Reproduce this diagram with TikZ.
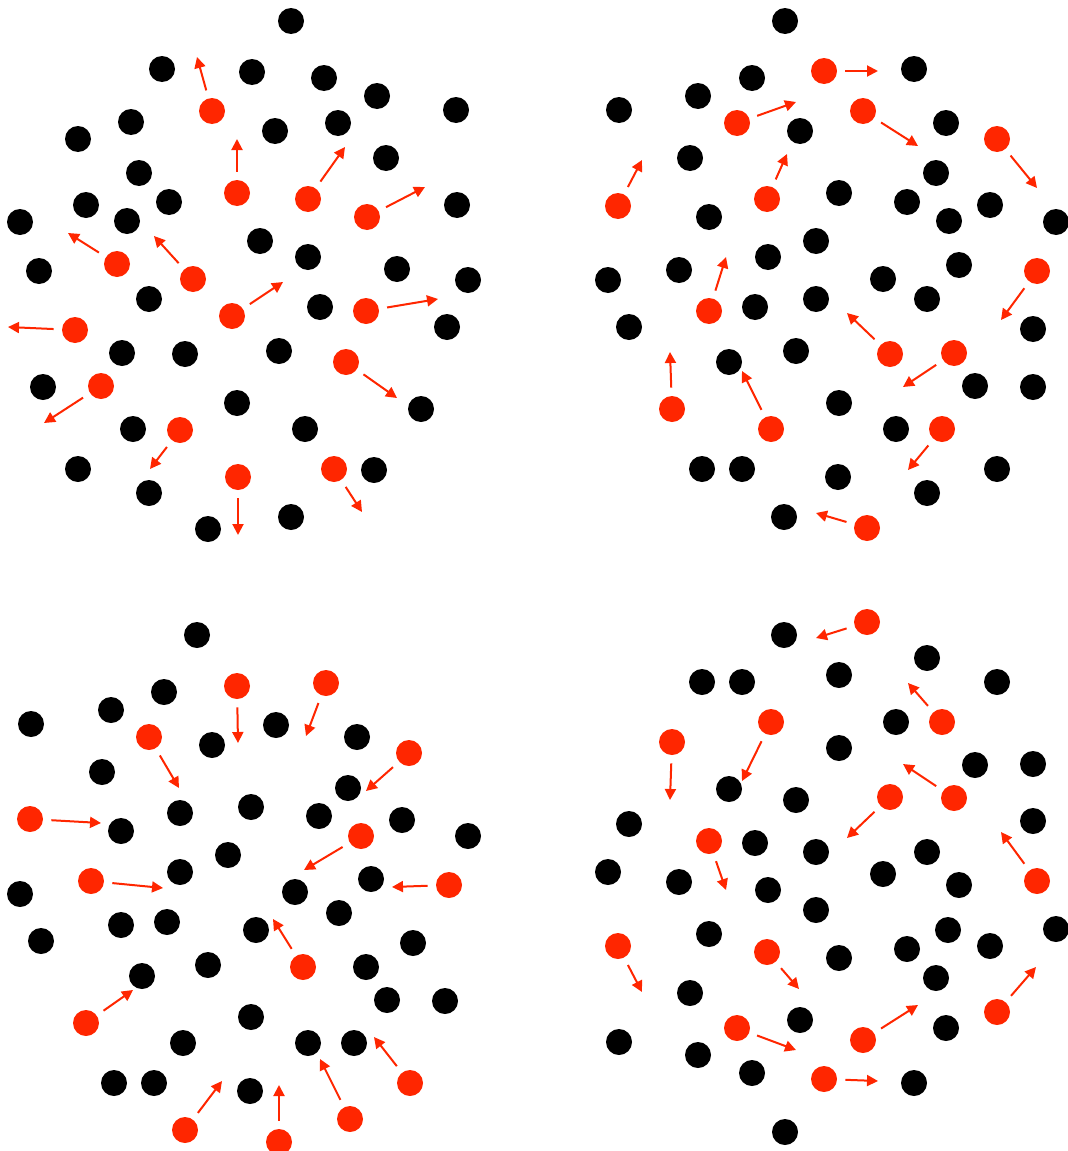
\documentclass[tikz,border=0pt]{standalone}
\usetikzlibrary{arrows.meta}
\definecolor{hot}{RGB}{255,38,0}
\tikzset{
  bdot/.style={circle, fill=black, inner sep=0pt, minimum size=13pt},
  rdot/.style={circle, fill=hot, inner sep=0pt, minimum size=13pt},
  mv/.style={hot, line width=1pt, -{Triangle[length=5.5pt,width=5.5pt]}, shorten <=4pt},
}
\begin{document}
\begin{tikzpicture}[x=0.5pt, y=-0.5pt]
  \useasboundingbox (0,0) rectangle (1067,1151);
  % top left
  \foreach \x/\y [count=\i] in {291/21,162/69,252/72,324/78,377/96,456/110,131/122,78/139,275/131,338/123,386/158,139/173,86/205,169/202,127/221,20/222,457/205,260/241,308/257,397/269,468/280,39/271,149/299,320/307,447/327,122/353,185/354,279/351,43/387,237/403,421/409,133/429,305/429,78/469,149/493,374/470,291/517,208/529}
    \node[bdot] (tl-b\i) at (\x,\y) {};
  \foreach \x/\y/\u/\v [count=\i] in {212/111/197/57,237/193/237/139,308/199/345/147,367/217/425/187,117/264/68/233,193/279/154/236,232/316/283/282,75/330/8/327,366/311/438/299,346/362/397/398,101/386/44/423,180/430/150/469,238/477/238/535,334/469/362/512}
    {\node[rdot] (tl-r\i) at (\x,\y) {};
     \coordinate (tl-t\i) at (\u,\v);
     \draw[mv] (tl-r\i) -- (tl-t\i);}
  % top right
  \foreach \x/\y [count=\i] in {785/21,914/69,752/78,698/96,619/110,946/123,800/131,690/158,936/173,839/193,907/202,949/221,990/205,1056/222,709/217,816/241,768/257,679/270,608/280,959/265,883/279,755/307,816/299,927/299,629/327,1033/329,796/351,729/362,975/386,1033/387,839/403,896/429,702/469,742/469,838/477,997/469,927/493,784/517}
    \node[bdot] (tr-b\i) at (\x,\y) {};
  \foreach \x/\y/\u/\v [count=\i] in {824/71/878/71,737/123/796/102,863/111/918/146,997/139/1037/188,618/206/642/160,767/199/787/154,1037/271/1001/320,709/311/726/257,890/354/847/313,954/353/903/387,672/409/670/352,771/429/742/371,942/429/908/470,867/528/816/513}
    {\node[rdot] (tr-r\i) at (\x,\y) {};
     \coordinate (tr-t\i) at (\u,\v);
     \draw[mv] (tr-r\i) -- (tr-t\i);}
  % bottom left
  \foreach \x/\y [count=\i] in {197/635,164/692,111/710,31/724,276/725,212/745,357/737,102/772,348/788,180/813,251/807,319/816,402/820,121/831,468/836,228/855,180/872,295/892,371/879,20/894,121/925,167/922,41/941,256/930,339/913,413/943,208/965,366/967,142/976,387/1000,445/1001,251/1017,183/1043,308/1043,354/1043,114/1083,154/1083,250/1091}
    \node[bdot] (bl-b\i) at (\x,\y) {};
  \foreach \x/\y/\u/\v [count=\i] in {237/686/238/743,326/683/306/736,149/737/179/788,409/753/366/791,30/819/101/823,361/836/304/870,91/881/163/888,449/885/392/887,303/967/273/919,86/1023/133/990,185/1130/222/1081,279/1142/279/1085,350/1119/320/1059,410/1083/374/1037}
    {\node[rdot] (bl-r\i) at (\x,\y) {};
     \coordinate (bl-t\i) at (\u,\v);
     \draw[mv] (bl-r\i) -- (bl-t\i);}
  % bottom right
  \foreach \x/\y [count=\i] in {784/635,927/658,702/682,742/682,839/675,997/682,896/722,839/748,975/765,1033/764,729/789,796/800,629/824,1033/821,755/843,816/852,927/852,608/872,679/882,883/874,959/885,768/890,816/910,709/934,948/930,1056/929,907/949,990/946,839/958,936/978,690/993,800/1020,946/1028,619/1042,698/1055,752/1073,914/1083,785/1132}
    \node[bdot] (br-b\i) at (\x,\y) {};
  \foreach \x/\y/\u/\v [count=\i] in {867/622/816/638,942/722/908/683,771/722/742/781,672/742/670/800,890/797/847/838,954/798/903/764,709/841/726/890,1037/881/1001/832,618/946/642/992,767/952/799/989,737/1028/796/1050,863/1040/918/1005,997/1012/1036/967,824/1079/878/1081}
    {\node[rdot] (br-r\i) at (\x,\y) {};
     \coordinate (br-t\i) at (\u,\v);
     \draw[mv] (br-r\i) -- (br-t\i);}
\end{tikzpicture}
\end{document}
